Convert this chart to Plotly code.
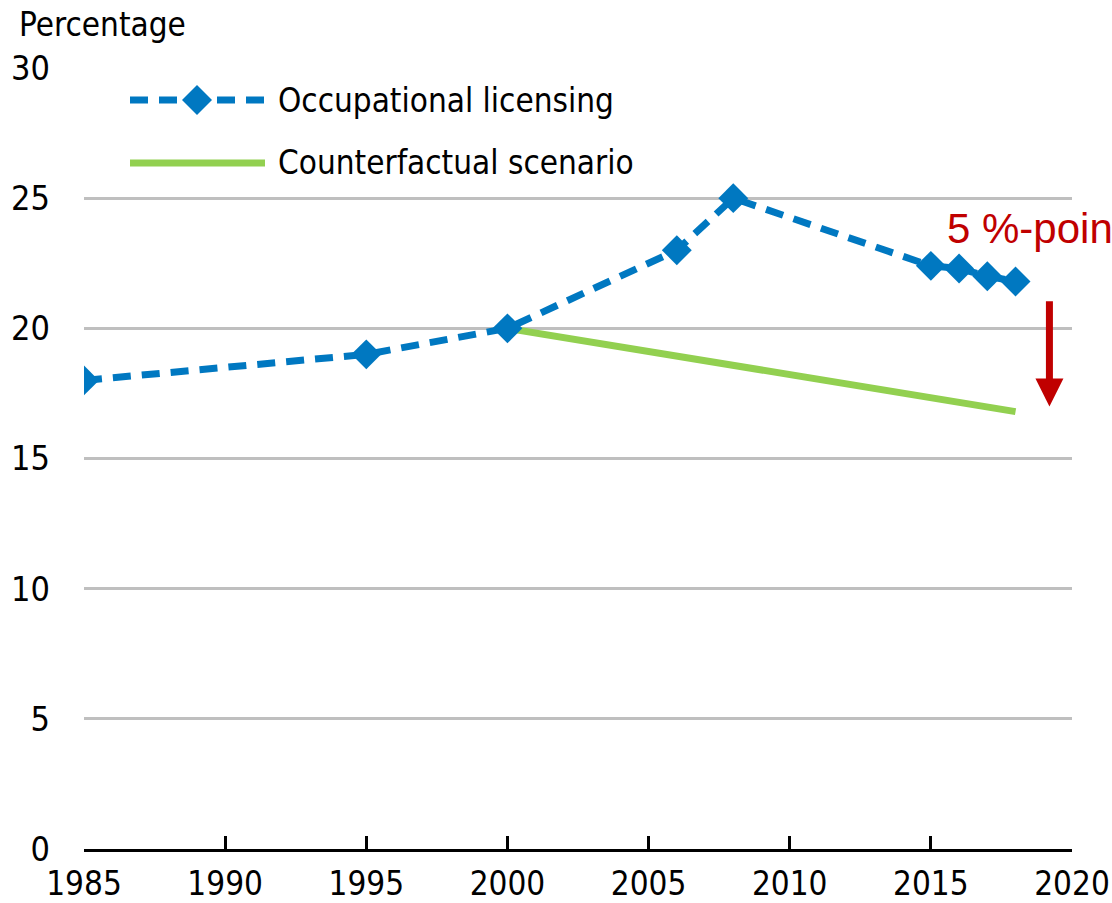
import plotly.graph_objects as go

years = [1985, 1995, 2000, 2006, 2008, 2015, 2016, 2017, 2018]
licensing = [18.0, 19.0, 20.0, 23.0, 25.0, 22.4, 22.3, 22.0, 21.8]
cf_years = [2000, 2018]
counterfactual = [20.0, 16.8]

x_ticks = [1985, 1990, 1995, 2000, 2005, 2010, 2015, 2020]
y_ticks = [0, 5, 10, 15, 20, 25, 30]

BLUE = "#0078C1"
GREEN = "#92D050"
RED = "#C00000"
FONT = "Liberation Sans Narrow, Arial Narrow, DejaVu Sans Condensed, Liberation Sans, Arial, sans-serif"
FONT_R = "Liberation Sans, Arial, sans-serif"

fig = go.Figure()
fig.add_trace(go.Scatter(x=cf_years, y=counterfactual, mode="lines",
                         line=dict(color=GREEN, width=7), showlegend=False))
fig.add_trace(go.Scatter(x=years, y=licensing, mode="lines+markers",
                         line=dict(color=BLUE, width=7, dash="18px,11px"),
                         marker=dict(symbol="diamond", size=23, color=BLUE),
                         showlegend=False))

W, H = 1112, 903
ml, mr, mt, mb = 84, 40, 68, 54
pw, ph = W - ml - mr, H - mt - mb

def px(xs):
    return (xs - ml) / pw

def py(ys):
    return 1 - (ys - mt) / ph

shapes = []
# legend entries (paper coords)
shapes.append(dict(type="line", xref="paper", yref="paper", x0=px(130), x1=px(265),
                   y0=py(100), y1=py(100), line=dict(color=BLUE, width=7, dash="18px,11px")))
cx, cy, r = 197, 100, 15
shapes.append(dict(type="path", xref="paper", yref="paper",
                   path=f"M {px(cx-r)} {py(cy)} L {px(cx)} {py(cy-r)} L {px(cx+r)} {py(cy)} L {px(cx)} {py(cy+r)} Z",
                   fillcolor=BLUE, line=dict(width=0)))
shapes.append(dict(type="line", xref="paper", yref="paper", x0=px(130), x1=px(265),
                   y0=py(163), y1=py(163), line=dict(color=GREEN, width=7)))

annotations = [
    dict(text="Occupational licensing", xref="paper", yref="paper", x=px(276), y=py(100),
         xanchor="left", yanchor="middle", showarrow=False, font=dict(size=33, color="black", family=FONT)),
    dict(text="Counterfactual scenario", xref="paper", yref="paper", x=px(276), y=py(163),
         xanchor="left", yanchor="middle", showarrow=False, font=dict(size=33, color="black", family=FONT)),
    dict(text="Percentage", xref="paper", yref="paper", x=px(17), y=py(24),
         xanchor="left", yanchor="middle", showarrow=False, font=dict(size=33, color="black", family=FONT)),
    dict(text="5 %-points", xref="x", yref="y", x=2015.5, y=23.85,
         xanchor="left", yanchor="middle", showarrow=False, font=dict(size=42, color=RED, family=FONT_R)),
    dict(text="", xref="x", yref="y", x=2019.2, y=17.0, axref="x", ayref="y", ax=2019.2, ay=21.1,
         showarrow=True, arrowhead=2, arrowsize=0.8, arrowwidth=7, arrowcolor=RED),
]

fig.update_layout(
    width=W, height=H,
    margin=dict(l=ml, r=mr, t=mt, b=mb, autoexpand=False),
    paper_bgcolor="white", plot_bgcolor="white",
    font=dict(family=FONT, size=34, color="black"),
    shapes=shapes, annotations=annotations,
    xaxis=dict(range=[1985, 2020], tickvals=x_ticks, ticktext=[str(v) for v in x_ticks],
               showgrid=False, zeroline=False, showline=True, linecolor="black", linewidth=3,
               ticks="inside", ticklen=13, tickwidth=3, tickcolor="black",
               automargin=False, ticklabeloverflow="allow", ticklabelstandoff=3,
               tickfont=dict(size=33, family=FONT)),
    yaxis=dict(range=[0, 30], tickvals=y_ticks, ticktext=[str(v) for v in y_ticks],
               showgrid=True, gridcolor="#BFBFBF", gridwidth=3, zeroline=False,
               showline=False, ticks="", ticklabelstandoff=33, automargin=False,
               ticklabeloverflow="allow",
               tickfont=dict(size=34, family=FONT)),
)

fig.write_html("out.html", config={"displayModeBar": False},
               post_script="document.body.style.margin='0';document.body.style.overflow='hidden';")
